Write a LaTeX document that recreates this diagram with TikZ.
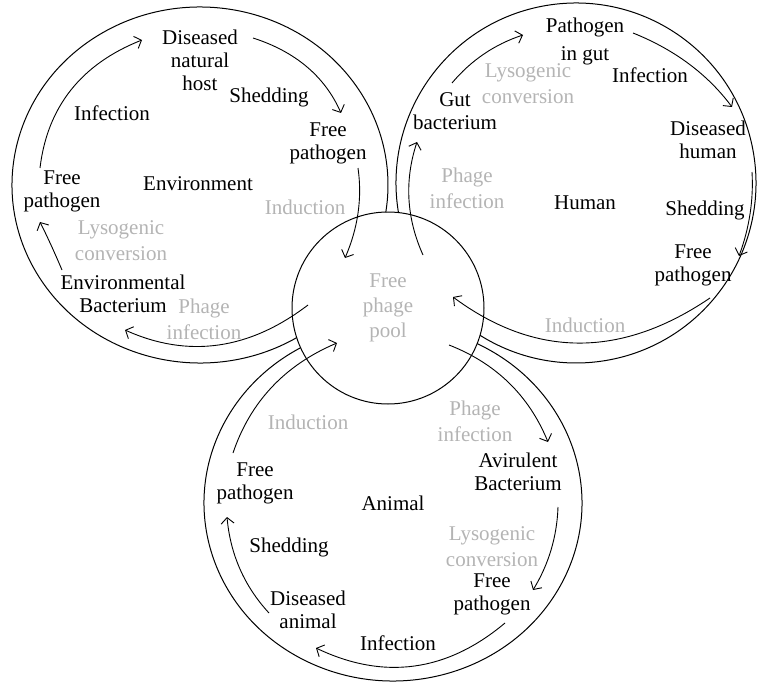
\documentclass[tikz,border=0pt]{standalone}
\usepackage{fontspec}
\setmainfont{Liberation Serif}
\usetikzlibrary{arrows.meta,calc}
\definecolor{paletext}{RGB}{180,180,180}
\begin{document}
\begin{tikzpicture}[x=1pt,y=-1pt,
  lbl/.style={font=\fontsize{21}{23}\selectfont, text=black, align=center, inner sep=0pt},
  glbl/.style={font=\fontsize{21}{26}\selectfont, text=paletext, align=center, inner sep=0pt},
  ring/.style={line width=1pt, draw=black},
  arr/.style={line width=0.9pt, draw=black, -{Straight Barb[length=6pt,width=13pt,line width=0.9pt]}},
]
\useasboundingbox (0,0) rectangle (758,682);

% centres of the three big loops
\coordinate (Lc) at (200,185);
\coordinate (Rc) at (576,183);
\coordinate (Bc) at (393,503);

% central pool
\node[circle, draw=black, line width=1pt, minimum size=192pt, inner sep=0pt,
      font=\fontsize{21}{25}\selectfont, text=paletext, align=center] (pool) at (388,308) {Free\\phage\\pool};

% big loops (arcs outside the pool)
\draw[ring] (Lc) ++(59:188 and 178) arc[start angle=59, end angle=368.8, x radius=188, y radius=178];
\draw[ring] (Rc) ++(170.6:180 and 180) arc[start angle=170.6, end angle=482.2, x radius=180, y radius=180];
\draw[ring] (Bc) ++(296.4:189 and 178) arc[start angle=296.4, end angle=600.7, x radius=189, y radius=178];

% ---------- labels: environment loop ----------
\node[lbl] (disL) at (200,60) {Diseased\\natural\\host};
\node[lbl] (shedL) at (269,97) {Shedding};
\node[lbl] (infL) at (112,113) {Infection};
\node[lbl] (fpL1) at (328,143) {Free\\pathogen};
\node[lbl] (fpL2) at (62,191) {Free\\pathogen};
\node[lbl] (env) at (198,184) {Environment};
\node[lbl] (envB) at (123,294) {Environmental\\Bacterium};
\node[glbl] (indL) at (305,207) {Induction};
\node[glbl] (lysL) at (121,241) {Lysogenic\\conversion};
\node[glbl] (phL) at (204,319) {Phage\\infection};

% ---------- labels: human loop ----------
\node[lbl, font=\fontsize{21}{28}\selectfont] (path) at (585,41) {Pathogen\\in gut};
\node[lbl] (infR) at (650,75) {Infection};
\node[lbl] (gut) at (455,111) {Gut\\bacterium};
\node[lbl] (disH) at (708,140) {Diseased\\human};
\node[lbl] (hum) at (585,203) {Human};
\node[lbl] (shedR) at (705,210) {Shedding};
\node[lbl] (fpR) at (693,265) {Free\\pathogen};
\node[glbl] (lysR) at (528,84) {Lysogenic\\conversion};
\node[glbl] (phR) at (467,188) {Phage\\infection};
\node[glbl] (indR) at (585,325) {Induction};

% ---------- labels: animal loop ----------
\node[lbl] (avir) at (518,472) {Avirulent\\Bacterium};
\node[lbl] (fpB1) at (255,483) {Free\\pathogen};
\node[lbl] (ani) at (393,503) {Animal};
\node[lbl] (shedB) at (289,547) {Shedding};
\node[lbl] (fpB2) at (492,594) {Free\\pathogen};
\node[lbl] (disA) at (308,610) {Diseased\\animal};
\node[lbl] (infB) at (398,643) {Infection};
\node[glbl] (indB) at (308,422) {Induction};
\node[glbl] (phB) at (475,421) {Phage\\infection};
\node[glbl] (lysB) at (492,547) {Lysogenic\\conversion};

% ---------- arrow end points (s = start, m = middle, e = end) ----------
\coordinate (Las) at (40,168);  \coordinate (Lam) at (71,90);   \coordinate (Lae) at (142,40);
\coordinate (Lbs) at (253,38);  \coordinate (Lbm) at (307,67);  \coordinate (Lbe) at (341,113);
\coordinate (Lcs) at (358,168); \coordinate (Lcm) at (358,213); \coordinate (Lce) at (345,258);
\coordinate (Lds) at (308,305); \coordinate (Ldm) at (218,345); \coordinate (Lde) at (125,330);
\coordinate (Les) at (62,270);  \coordinate (Lem) at (51,245);  \coordinate (Lee) at (40,222);

\coordinate (Ras) at (452,83);  \coordinate (Ram) at (484,54);  \coordinate (Rae) at (523,35);
\coordinate (Rbs) at (633,33);  \coordinate (Rbm) at (689,64);  \coordinate (Rbe) at (732,107);
\coordinate (Rcs) at (752,172); \coordinate (Rcm) at (750,214); \coordinate (Rce) at (739,256);
\coordinate (Rds) at (710,298); \coordinate (Rdm) at (579,343); \coordinate (Rde) at (453,297);
\coordinate (Res) at (423,255); \coordinate (Rem) at (409,199); \coordinate (Ree) at (417,142);

\coordinate (Bas) at (449,345); \coordinate (Bam) at (509,383); \coordinate (Bae) at (548,442);
\coordinate (Bbs) at (558,507); \coordinate (Bbm) at (551,550); \coordinate (Bbe) at (533,590);
\coordinate (Bcs) at (505,623); \coordinate (Bcm) at (414,666); \coordinate (Bce) at (316,648);
\coordinate (Bds) at (269,613); \coordinate (Bdm) at (240,569); \coordinate (Bde) at (227,517);
\coordinate (Bes) at (233,453); \coordinate (Bem) at (272,387); \coordinate (Bee) at (337,343);

\foreach \a in {La,Lb,Lc,Ld,Le,Ra,Rb,Rc,Rd,Re,Ba,Bb,Bc,Bd,Be}{
  \draw[arr] (\a s) .. controls ($1.33333*(\a m)-0.33333*(\a e)$) and ($1.33333*(\a m)-0.33333*(\a s)$) .. (\a e);
}
\end{tikzpicture}
\end{document}
